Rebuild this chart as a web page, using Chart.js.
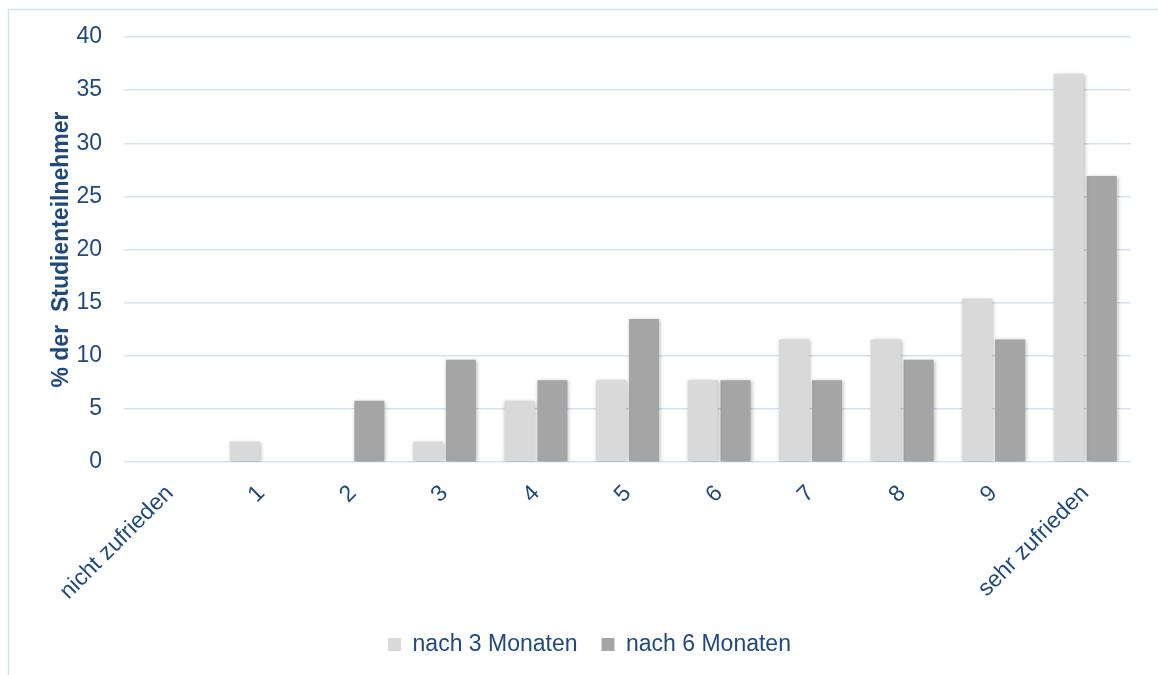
<!DOCTYPE html>
<html lang="de">
<head>
<meta charset="utf-8">
<title>Zufriedenheit der Studienteilnehmer</title>
<script src="https://cdn.jsdelivr.net/npm/chart.js@4.4.1/dist/chart.umd.min.js"></script>
<style>
  html, body { margin: 0; padding: 0; background: #ffffff; }
  #wrap { position: relative; width: 1158px; height: 675px; }
</style>
</head>
<body>
<div id="wrap"><canvas id="chart" width="1158" height="675"></canvas></div>
<script>
// Zufriedenheitsskala von "nicht zufrieden" bis "sehr zufrieden"
const categories = ['nicht zufrieden', '1', '2', '3', '4', '5', '6', '7', '8', '9', 'sehr zufrieden'];
// Anteil der Studienteilnehmer in Prozent
const after3Months = [0, 1.92, 0, 1.92, 5.77, 7.69, 7.69, 11.54, 11.54, 15.38, 36.54];
const after6Months = [0, 0, 5.77, 9.62, 7.69, 13.46, 7.69, 7.69, 9.62, 11.54, 26.92];
const seriesNames = ['nach 3 Monaten', 'nach 6 Monaten'];
const yTicks = [0, 5, 10, 15, 20, 25, 30, 35, 40];

const textColor = '#1f497d';
const gridColor = '#d5e2f2';
const fontFamily = '"Liberation Sans", Arial, sans-serif';
const fontSize = 23;

// light frame around the chart
const framePlugin = {
  id: 'frame',
  beforeDraw(chart) {
    const ctx = chart.ctx;
    ctx.save();
    ctx.strokeStyle = '#d3e1f2';
    ctx.lineWidth = 1.5;
    ctx.beginPath();
    ctx.moveTo(8.5, 700);
    ctx.lineTo(8.5, 9.5);
    ctx.lineTo(1200, 9.5);
    ctx.stroke();
    ctx.restore();
  }
};

// soft drop shadow under the bars
const shadowPlugin = {
  id: 'barShadow',
  beforeDatasetsDraw(chart) {
    const ctx = chart.ctx;
    ctx.save();
    ctx.shadowColor = 'rgba(0,0,0,0.28)';
    ctx.shadowBlur = 4;
    ctx.shadowOffsetX = 1;
    ctx.shadowOffsetY = 1;
  },
  afterDatasetsDraw(chart) {
    chart.ctx.restore();
  }
};

new Chart(document.getElementById('chart'), {
  type: 'bar',
  data: {
    labels: categories,
    datasets: [
      { label: seriesNames[0], data: after3Months, backgroundColor: '#d9d9d9' },
      { label: seriesNames[1], data: after6Months, backgroundColor: '#a5a5a5' }
    ]
  },
  options: {
    responsive: false,
    animation: false,
    datasets: { bar: { categoryPercentage: 0.72, barPercentage: 0.91 } },
    layout: { padding: { left: 48, right: 27, top: 37, bottom: 9 } },
    scales: {
      x: {
        grid: { display: false },
        border: { display: false },
        ticks: {
          color: textColor,
          font: { family: fontFamily, size: fontSize },
          maxRotation: 45,
          minRotation: 45,
          padding: 10
        },
        afterFit(scale) { scale.height = 147; }
      },
      y: {
        min: 0,
        max: 40,
        afterBuildTicks(scale) { scale.ticks = yTicks.map(v => ({ value: v })); },
        grid: { color: gridColor, lineWidth: 1.5, drawTicks: false },
        border: { display: false },
        ticks: {
          color: textColor,
          font: { family: fontFamily, size: fontSize },
          padding: 22
        },
        title: {
          display: true,
          text: '% der  Studienteilnehmer',
          color: textColor,
          font: { family: fontFamily, size: fontSize, weight: 'bold' },
          padding: 0
        },
        afterFit(scale) { scale.width = 76; }
      }
    },
    plugins: {
      legend: {
        position: 'bottom',
        labels: {
          color: textColor,
          font: { family: fontFamily, size: fontSize },
          boxWidth: 13,
          boxHeight: 13,
          padding: 24
        }
      },
      tooltip: { enabled: false }
    }
  },
  plugins: [framePlugin, shadowPlugin]
});
</script>
</body>
</html>
